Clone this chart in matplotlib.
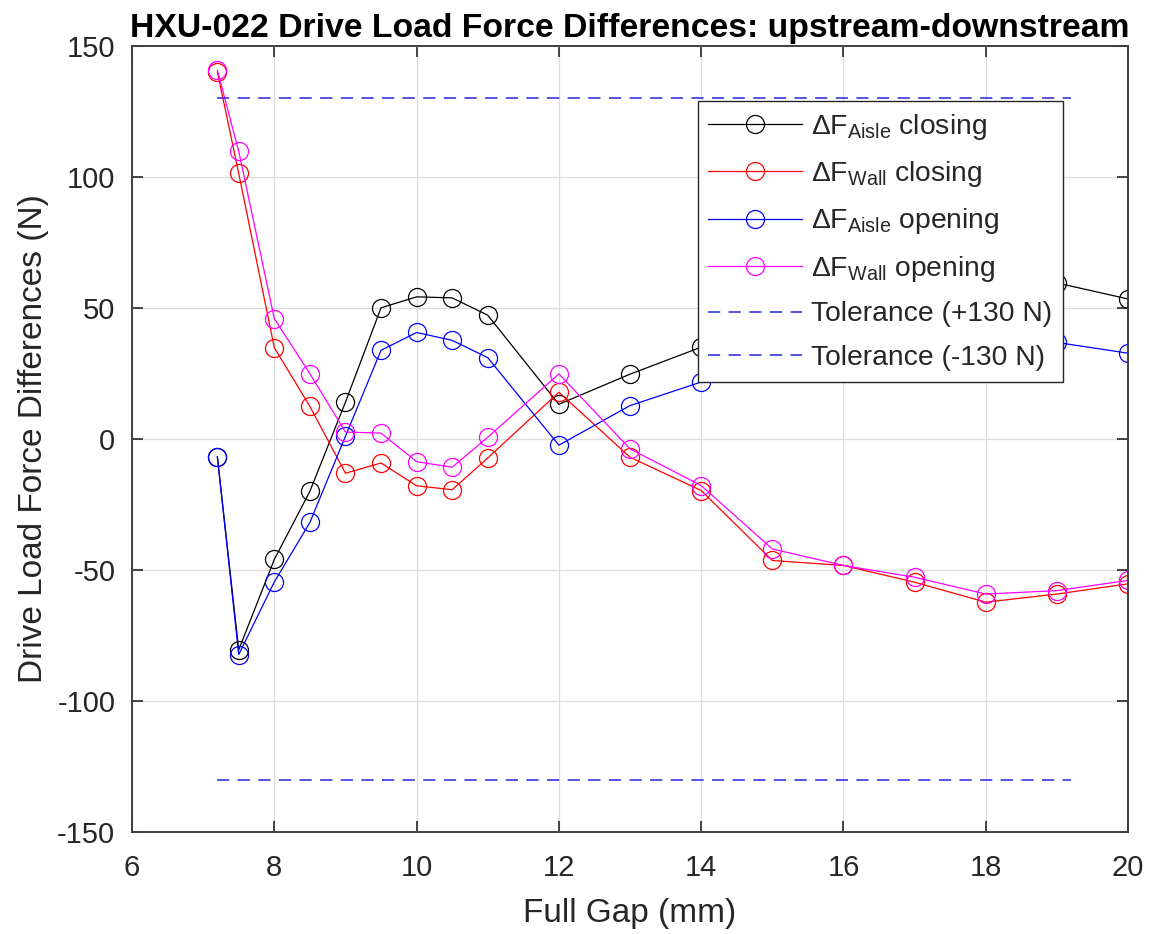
import matplotlib
matplotlib.use("Agg")
import matplotlib.pyplot as plt
from matplotlib.ticker import MultipleLocator

plt.rcParams['font.family'] = ['Liberation Sans', 'DejaVu Sans']
plt.rcParams['mathtext.fontset'] = 'custom'
plt.rcParams['mathtext.rm'] = 'Liberation Sans'
plt.rcParams['mathtext.it'] = 'Liberation Sans:italic'
plt.rcParams['mathtext.bf'] = 'Liberation Sans:bold'
plt.rcParams['axes.unicode_minus'] = False

# ---- data ----
gap = [7.2, 7.5, 8, 8.5, 9, 9.5, 10, 10.5, 11, 12, 13, 14, 15, 16, 17, 18, 19, 20]
aisle_closing = [-7, -80.5, -46, -20, 14, 50, 54.2, 53.8, 47.2, 13.2, 24.7, 35, 41, 46, 51, 55.5, 59.5, 53.4]
wall_closing = [140, 101.3, 34.8, 12.4, -13.1, -9.2, -17.9, -19.4, -7.3, 17.8, -7, -19.7, -46.4, -48.3, -54.7, -62.3, -59.2, -55.3]
aisle_opening = [-6.8, -82.3, -54.6, -31.9, 1, 33.8, 40.6, 37.6, 31, -2.4, 12.7, 21.7, 27, 30, 33, 35.5, 36.8, 32.7]
wall_opening = [140.7, 109.7, 45.9, 24.9, 2.6, 2.2, -8.7, -10.8, 0.6, 24.8, -3.8, -17.8, -42, -48.3, -52.8, -59.2, -57.9, -54]
tol_x = [7.2, 19.2]
tol_hi = [130, 130]
tol_lo = [-130, -130]

labels = [r'$\Delta$F$_{\rm Aisle}$ closing', r'$\Delta$F$_{\rm Wall}$ closing',
          r'$\Delta$F$_{\rm Aisle}$ opening', r'$\Delta$F$_{\rm Wall}$ opening',
          'Tolerance (+130 N)', 'Tolerance (-130 N)']
title = 'HXU-022 Drive Load Force Differences: upstream-downstream'
xlabel = 'Full Gap (mm)'
ylabel = 'Drive Load Force Differences (N)'

fig = plt.figure(figsize=(11.56, 9.34), dpi=100)
ax = fig.add_axes([0.1142, 0.1092, 0.9758 - 0.1142, 0.951 - 0.1092])

mk = dict(marker='o', markersize=13, markerfacecolor='none', markeredgewidth=0.9, linewidth=0.9)
ax.plot(gap, aisle_closing, color='black', label=labels[0], **mk)
ax.plot(gap, wall_closing, color='#ff0000', label=labels[1], **mk)
ax.plot(gap, aisle_opening, color='#0000ff', label=labels[2], **mk)
ax.plot(gap, wall_opening, color='#ff00ff', label=labels[3], **mk)
ax.plot(tol_x, tol_hi, color='#2525dd', linestyle=(0, (8, 5.5)), linewidth=1.1, label=labels[4])
ax.plot(tol_x, tol_lo, color='#2525dd', linestyle=(0, (8, 5.5)), linewidth=1.1, label=labels[5])

ax.set_xlim(6, 20)
ax.set_ylim(-150, 150)
ax.xaxis.set_major_locator(MultipleLocator(2))
ax.yaxis.set_major_locator(MultipleLocator(50))
ax.grid(True, color='#dcdcdc', linewidth=0.9)
ax.set_axisbelow(True)
for s in ax.spines.values():
    s.set_color('#404040')
    s.set_linewidth(1.4)
ax.tick_params(direction='in', length=8, width=1.2, color='#262626', labelcolor='#262626',
               labelsize=21, top=True, right=True)
ax.tick_params(axis='x', pad=16)
ax.tick_params(axis='y', pad=12)

ax.set_title(title, fontsize=24.3, fontweight='bold', pad=6)
ax.set_xlabel(xlabel, fontsize=24, color='#262626', labelpad=11)
ax.set_ylabel(ylabel, fontsize=24, color='#262626', labelpad=6)

leg = ax.legend(loc='upper left', bbox_to_anchor=(0.568, 0.930), fontsize=20.3,
                frameon=True, fancybox=False, edgecolor='#262626', framealpha=1,
                handlelength=3.3, handletextpad=0.35, borderpad=0.38, labelspacing=0.62,
                borderaxespad=0)
leg.get_frame().set_linewidth(1.0)
leg.set_zorder(10)
for t in leg.get_texts():
    t.set_color('#262626')

fig.savefig('out.png', dpi=100)
